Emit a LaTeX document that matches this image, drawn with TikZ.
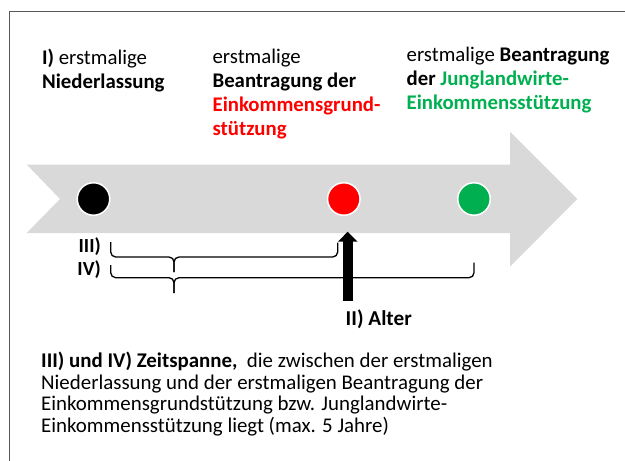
\documentclass[tikz,border=0pt]{standalone}
\usepackage{fontspec}
\setmainfont{Carlito}
\usetikzlibrary{arrows.meta}
\definecolor{bandgray}{HTML}{D9D9D9}
\definecolor{framegray}{HTML}{595959}
\definecolor{einkred}{HTML}{FF0000}
\definecolor{jlwgreen}{HTML}{00B050}
\tikzset{
  % multi-line texts are placed by the baseline of their last line
  headtext/.style={anchor=base west, align=left, inner sep=0pt,
    font=\fontsize{20.8}{24.3}\selectfont},
  bodytext/.style={anchor=base west, align=left, inner sep=0pt,
    font=\fontsize{20.9}{21.7}\selectfont},
  spanlabel/.style={anchor=base east, inner sep=0pt,
    font=\fontsize{20}{24}\selectfont\bfseries},
  milestone/.style={circle, draw=white, line width=1.5pt, minimum size=32.5pt, inner sep=0pt},
  bracepath/.style={line width=1.3pt, rounded corners=5pt},
}
\begin{document}
\begin{tikzpicture}[x=1pt, y=-1pt]
\useasboundingbox (0,0) rectangle (625,461);

% frame lines (top and left)
\draw[framegray, line width=1.5pt] (625,11.5) -- (9.5,11.5) -- (9.5,461);

% grey timeline arrow
\fill[bandgray] (26.7,164.5) -- (510,164.5) -- (510,131.7) -- (577.3,199)
  -- (510,266.7) -- (510,233) -- (26.7,233) -- (60,199) -- cycle;

% milestones
\node[milestone, fill=black]     (m1) at (93.5,199)  {};
\node[milestone, fill=einkred]   (m2) at (343.8,199) {};
\node[milestone, fill=jlwgreen]  (m3) at (474,199)   {};

% headings
\node[headtext] (h1) at (41.9,88.3) {\textbf{I)} erstmalige\\\textbf{Niederlassung}};
\node[headtext] (h2) at (212.4,135.9) {erstmalige\\\textbf{Beantragung der}\\
  \textcolor{einkred}{\textbf{Einkommensgrund-}}\\\textcolor{einkred}{\textbf{stützung}}};
\node[headtext] (h3) at (406.5,109.6) {erstmalige \textbf{Beantragung}\\
  \textbf{der} \textcolor{jlwgreen}{\textbf{Junglandwirte-}}\\
  \textcolor{jlwgreen}{\textbf{Einkommensstützung}}};

% span labels
\node[spanlabel] (l3) at (101,252) {III)};
\node[spanlabel] (l4) at (101,275) {IV)};

% brace III: from first to second milestone
\coordinate (b3l) at (110.7,242);
\coordinate (b3r) at (337.7,242.5);
\coordinate (b3m) at (174,257);
\coordinate (b3t) at (174,272);
\draw[bracepath] (b3l) |- (b3m) -- (b3t);
\draw[bracepath] (b3r) |- (b3m) -- (b3t);

% brace IV: from first to third milestone
\coordinate (b4l) at (110.7,265);
\coordinate (b4r) at (474,262.7);
\coordinate (b4m) at (174,277.7);
\coordinate (b4t) at (174,293);
\draw[bracepath] (b4l) |- (b4m) -- (b4t);
\draw[bracepath] (b4r) |- (b4m) -- (b4t);

% age marker
\node[anchor=base west, inner sep=0pt, font=\fontsize{21.2}{24}\selectfont\bfseries]
  (alter) at (345.5,325) {II) Alter};
\coordinate (altbot) at (347.7,300.5);
\coordinate (alttip) at (347.7,231.7);
\draw[line width=10pt, -{Triangle[length=10pt, width=19pt]}] (altbot) -- (alttip);

% explanation
\node[bodytext] (expl) at (41,432.4) {\textbf{III) und IV) Zeitspanne,}\ \ die zwischen der erstmaligen\\
  Niederlassung und der erstmaligen Beantragung der\\
  Einkommensgrundstützung bzw. Junglandwirte-\\
  Einkommensstützung liegt (max. 5 Jahre)};
\end{tikzpicture}
\end{document}
